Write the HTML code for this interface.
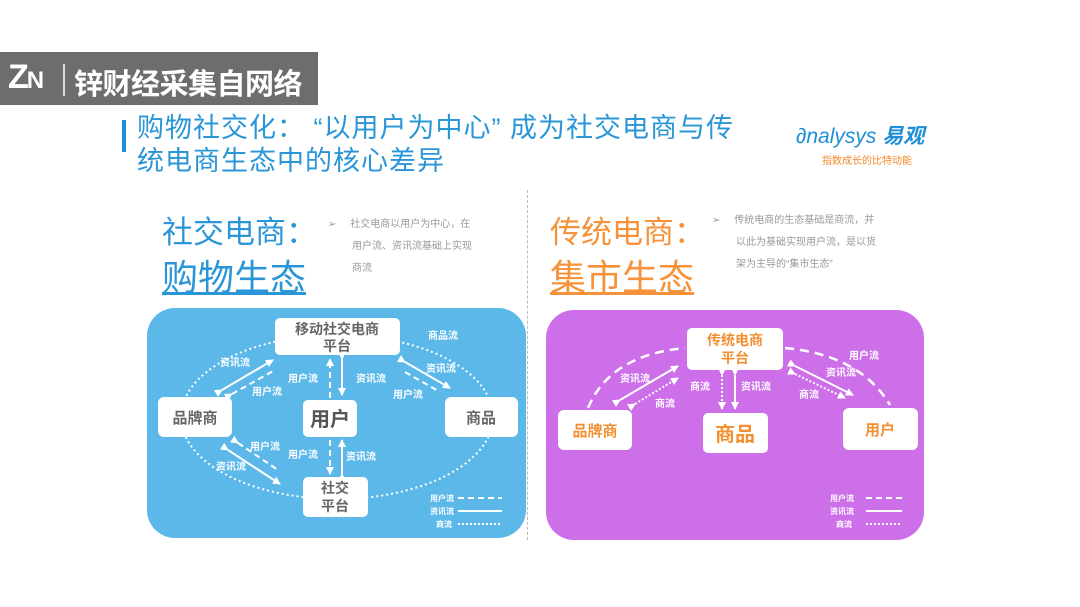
<!DOCTYPE html>
<html><head><meta charset="utf-8"><style>
body{margin:0;width:1080px;height:607px;background:#fff;position:relative;overflow:hidden;font-family:"Liberation Sans","Noto Sans CJK SC",sans-serif}
.a{position:absolute;white-space:nowrap}
</style></head><body>
<div class="a" style="left:0;top:52px;width:318px;height:53px;background:#6d6d6d"></div>
<div class="a" style="left:8px;top:58px;font-size:34px;font-weight:bold;color:#fff;letter-spacing:-2px">Z<span style="font-size:24px">N</span></div>
<div class="a" style="left:63px;top:64px;width:2px;height:32px;background:#ddd"></div>
<div class="a" style="left:74px;top:61px;font-size:29px;font-weight:bold;color:#fff;letter-spacing:-0.5px">锌财经采集自网络</div>
<div class="a" style="left:122px;top:120px;width:4px;height:32px;background:#1e8fd6"></div>
<div class="a" style="left:137px;top:112px;font-size:27px;color:#2a96d8;line-height:33px;letter-spacing:1px">购物社交化： “以用户为中心” 成为社交电商与传<br>统电商生态中的核心差异</div>
<div class="a" style="left:796px;top:120px;font-size:21px;color:#1e8fd6;font-style:italic">∂nalysys <b>易观</b></div>
<div class="a" style="left:822px;top:152px;font-size:10px;color:#f08a2a">指数成长的比特动能</div>
<div class="a" style="left:162px;top:207px;font-size:31px;color:#2a96d8">社交电商：</div>
<div class="a" style="left:162px;top:249px;font-size:36px;color:#2a96d8;text-decoration:underline">购物生态</div>
<div class="a" style="left:328px;top:214px;font-size:10px;color:#999;line-height:22px">➢&nbsp;&nbsp;&nbsp;&nbsp;&nbsp;社交电商以用户为中心，在<br><span style="padding-left:24px">用户流、资讯流基础上实现</span><br><span style="padding-left:24px">商流</span></div>
<div class="a" style="left:550px;top:207px;font-size:31px;color:#f5923a">传统电商：</div>
<div class="a" style="left:550px;top:249px;font-size:36px;color:#f5923a;text-decoration:underline">集市生态</div>
<div class="a" style="left:712px;top:210px;font-size:10px;color:#999;line-height:22px">➢&nbsp;&nbsp;&nbsp;&nbsp;&nbsp;传统电商的生态基础是商流，并<br><span style="padding-left:24px">以此为基础实现用户流，是以货</span><br><span style="padding-left:24px">架为主导的“集市生态”</span></div>
<div class="a" style="left:527px;top:190px;height:350px;border-left:1px dashed #bbb"></div>
<svg class="a" style="left:0;top:0" width="1080" height="607" font-family="Liberation Sans,Noto Sans CJK SC,sans-serif">
<defs><marker id="m" markerWidth="4" markerHeight="4" refX="3.5" refY="2" orient="auto"><path d="M0,0L4,2L0,4z" fill="#fff"/></marker></defs>
<rect x="147" y="308" width="379" height="230" rx="28" fill="#5bb8e8"/>
<ellipse cx="337" cy="417" rx="156" ry="82" fill="none" stroke="#fff" stroke-width="2" stroke-dasharray="2 3"/>
<g stroke="#fff" stroke-width="2" fill="none">
<line x1="222" y1="390" x2="273" y2="360" marker-end="url(#m)" marker-start="url(#m)"/>
<line x1="232" y1="394" x2="275" y2="370" stroke-dasharray="6 4" marker-start="url(#m)"/>
<line x1="405" y1="362" x2="450" y2="388" marker-end="url(#m)" marker-start="url(#m)"/>
<line x1="405" y1="372" x2="440" y2="392" stroke-dasharray="6 4"/>
<line x1="330" y1="398" x2="330" y2="359" stroke-dasharray="6 4" marker-end="url(#m)"/>
<line x1="342" y1="359" x2="342" y2="395" marker-end="url(#m)" marker-start="url(#m)"/>
<line x1="330" y1="440" x2="330" y2="474" stroke-dasharray="6 4" marker-end="url(#m)"/>
<line x1="342" y1="474" x2="342" y2="440" marker-end="url(#m)" marker-start="url(#m)"/>
<line x1="228" y1="450" x2="280" y2="484" marker-end="url(#m)" marker-start="url(#m)"/>
<line x1="238" y1="443" x2="278" y2="470" stroke-dasharray="6 4" marker-start="url(#m)"/>
<line x1="458" y1="498" x2="502" y2="498" stroke-dasharray="6 4"/>
<line x1="458" y1="511" x2="502" y2="511"/>
<line x1="458" y1="524" x2="502" y2="524" stroke-dasharray="2 2"/>
</g>
<g fill="#fff">
<rect x="275" y="318" width="125" height="37" rx="5"/>
<rect x="158" y="397" width="74" height="40" rx="6"/>
<rect x="303" y="400" width="54" height="37" rx="5"/>
<rect x="445" y="397" width="73" height="40" rx="6"/>
<rect x="303" y="477" width="65" height="40" rx="5"/>
</g>
<g fill="#666" text-anchor="middle" font-weight="bold">
<text x="337" y="334" font-size="14">移动社交电商</text><text x="337" y="351" font-size="14">平台</text>
<text x="195" y="423" font-size="15">品牌商</text>
<text x="330" y="426" font-size="20" fill="#555">用户</text>
<text x="481" y="423" font-size="15">商品</text>
<text x="335" y="493" font-size="14">社交</text><text x="335" y="511" font-size="14">平台</text>
</g>
<g fill="#fff" font-size="10" font-weight="bold">
<text x="428" y="339">商品流</text>
<text x="220" y="366">资讯流</text><text x="252" y="395">用户流</text>
<text x="288" y="382">用户流</text><text x="356" y="382">资讯流</text>
<text x="426" y="372">资讯流</text><text x="393" y="398">用户流</text>
<text x="250" y="450">用户流</text><text x="216" y="470">资讯流</text>
<text x="288" y="458">用户流</text><text x="346" y="460">资讯流</text>
<text x="430" y="501" font-size="8">用户流</text><text x="430" y="514" font-size="8">资讯流</text><text x="436" y="527" font-size="8">商流</text>
</g>
<rect x="546" y="310" width="378" height="230" rx="28" fill="#cc6fe9"/>
<g stroke="#fff" stroke-width="2.5" fill="none">
<path d="M588 408 Q610 355 685 348" stroke-dasharray="9 6"/>
<path d="M785 348 Q860 355 890 405" stroke-dasharray="9 6"/>
<line x1="620" y1="400" x2="678" y2="366" stroke-width="2" marker-end="url(#m)" marker-start="url(#m)"/>
<line x1="635" y1="404" x2="678" y2="378" stroke-width="2" stroke-dasharray="2 2" marker-start="url(#m)" marker-end="url(#m)"/>
<line x1="722" y1="375" x2="722" y2="409" stroke-width="2" stroke-dasharray="2 2" marker-start="url(#m)" marker-end="url(#m)"/>
<line x1="735" y1="375" x2="735" y2="409" stroke-width="2" marker-start="url(#m)" marker-end="url(#m)"/>
<line x1="795" y1="366" x2="853" y2="395" stroke-width="2" marker-start="url(#m)" marker-end="url(#m)"/>
<line x1="795" y1="374" x2="845" y2="398" stroke-width="2" stroke-dasharray="2 2" marker-start="url(#m)" marker-end="url(#m)"/>
<line x1="866" y1="498" x2="902" y2="498" stroke-width="2" stroke-dasharray="6 4"/>
<line x1="866" y1="511" x2="902" y2="511" stroke-width="2"/>
<line x1="866" y1="524" x2="902" y2="524" stroke-width="2" stroke-dasharray="2 2"/>
</g>
<g fill="#fff">
<rect x="687" y="328" width="96" height="42" rx="5"/>
<rect x="558" y="410" width="74" height="40" rx="6"/>
<rect x="703" y="413" width="65" height="40" rx="5"/>
<rect x="843" y="408" width="75" height="42" rx="6"/>
</g>
<g fill="#f29030" text-anchor="middle" font-weight="bold">
<text x="735" y="345" font-size="14">传统电商</text><text x="735" y="363" font-size="14">平台</text>
<text x="595" y="436" font-size="15">品牌商</text>
<text x="735" y="441" font-size="20">商品</text>
<text x="880" y="435" font-size="15">用户</text>
</g>
<g fill="#fff" font-size="10" font-weight="bold">
<text x="849" y="359">用户流</text>
<text x="620" y="382">资讯流</text><text x="655" y="407">商流</text>
<text x="690" y="390">商流</text><text x="741" y="390">资讯流</text>
<text x="826" y="376">资讯流</text><text x="799" y="398">商流</text>
<text x="830" y="501" font-size="8">用户流</text><text x="830" y="514" font-size="8">资讯流</text><text x="836" y="527" font-size="8">商流</text>
</g>
</svg>
</body></html>
